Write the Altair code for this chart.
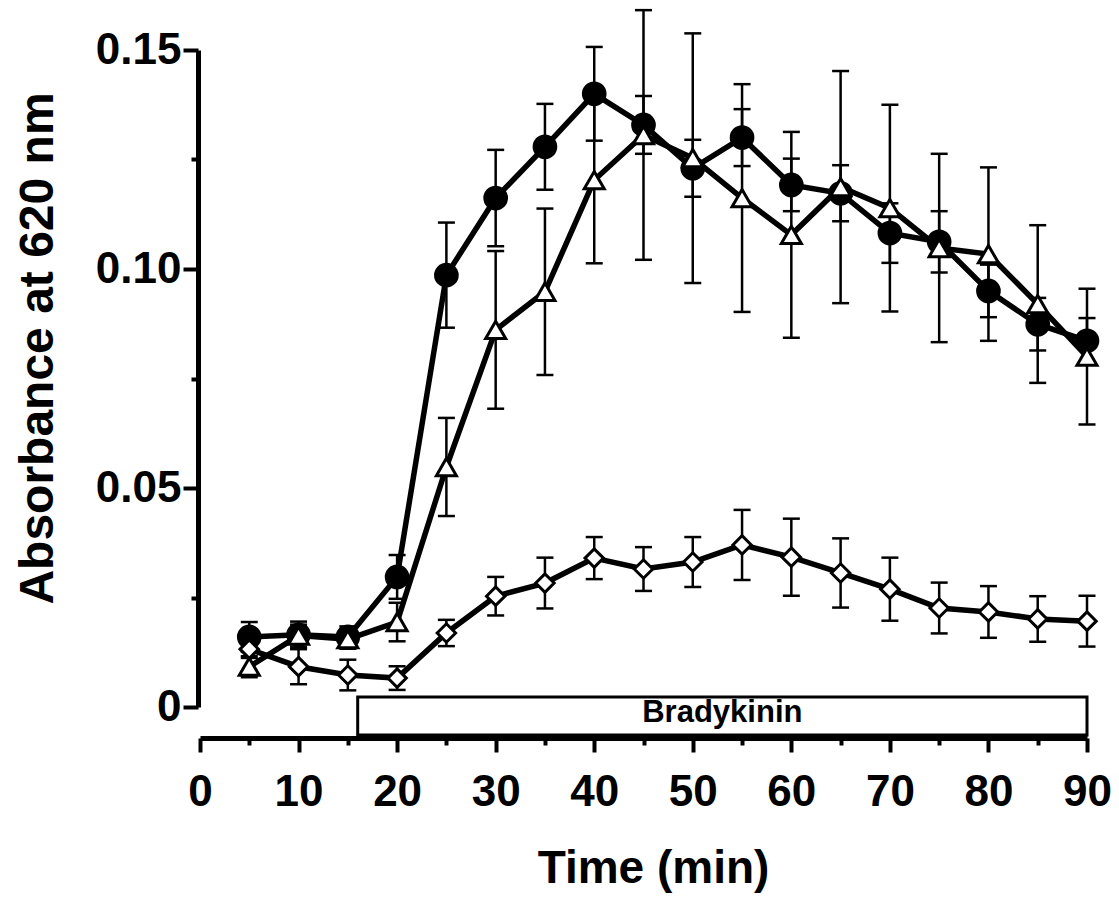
import altair as alt
import pandas as pd

times = [5, 10, 15, 20, 25, 30, 35, 40, 45, 50, 55, 60, 65, 70, 75, 80, 85, 90]
circle_mean = [0.0160, 0.0165, 0.0160, 0.0297, 0.0986, 0.1162, 0.1279, 0.1400, 0.1329, 0.1230,
               0.1300, 0.1192, 0.1173, 0.1082, 0.1062, 0.0950, 0.0874, 0.0836]
circle_err = [0.0034, 0.0030, 0.0024, 0.0050, 0.0120, 0.0110, 0.0098, 0.0107, 0.0066, 0.0065,
              0.0065, 0.0060, 0.0064, 0.0068, 0.0070, 0.0060, 0.0060, 0.0052]
triangle_mean = [0.0092, 0.0163, 0.0155, 0.0194, 0.0548, 0.0861, 0.0948, 0.1203, 0.1306, 0.1253,
                 0.1162, 0.1078, 0.1187, 0.1139, 0.1048, 0.1034, 0.0920, 0.0800]
triangle_err = [0.0024, 0.0025, 0.0022, 0.0044, 0.0112, 0.0180, 0.0190, 0.0190, 0.0285, 0.0285,
                0.0260, 0.0235, 0.0265, 0.0236, 0.0215, 0.0198, 0.0180, 0.0155]
diamond_mean = [0.0132, 0.0092, 0.0073, 0.0066, 0.0169, 0.0253, 0.0283, 0.0340, 0.0315, 0.0331,
                0.0370, 0.0342, 0.0306, 0.0269, 0.0226, 0.0217, 0.0201, 0.0196]
diamond_err = [0.0020, 0.0040, 0.0035, 0.0027, 0.0030, 0.0044, 0.0058, 0.0048, 0.0050, 0.0057,
               0.0080, 0.0088, 0.0079, 0.0072, 0.0058, 0.0059, 0.0052, 0.0058]

x_ticks = list(range(0, 95, 5))
y_ticks = [0, 0.025, 0.05, 0.075, 0.10, 0.125, 0.15]
bar_label = "Bradykinin"
bar_start = [16]
bar_end = [90]

rows = []
for name, means, errs in [("circle", circle_mean, circle_err),
                          ("triangle", triangle_mean, triangle_err),
                          ("diamond", diamond_mean, diamond_err)]:
    for t, m, e in zip(times, means, errs):
        rows.append({"series": name, "time": t, "mean": m, "err": e})
df = pd.DataFrame(rows)
bar_df = pd.DataFrame({"start": bar_start, "end": bar_end, "label": [bar_label]})

FONT = "Liberation Sans"
xscale = alt.Scale(domain=[0, 90], nice=False, zero=False)
yscale = alt.Scale(domain=[0, 0.15], nice=False, zero=False)

x_axis = alt.Axis(
    values=x_ticks, offset=31, domainWidth=5, domainColor="black",
    tickColor="black", tickWidth=4,
    tickSize={"condition": {"test": "datum.value % 10 === 0", "value": 14}, "value": 7},
    labelExpr="datum.value % 10 === 0 ? datum.label : ''",
    labelFont=FONT, labelFontSize=44, labelFontWeight="bold", labelColor="black", labelPadding=18,
    labelFlush=False, labelOverlap=False,
    title="Time (min)", titleFont=FONT, titleFontSize=46, titleFontWeight="bold",
    titleColor="black", titleBaseline="alphabetic", titleX=453, titleY=144,
    grid=False,
)
y_axis = alt.Axis(
    values=y_ticks, offset=2, domainWidth=5, domainColor="black",
    tickColor="black", tickWidth=4,
    tickSize={"condition": {"test": "round(datum.value*1000) % 50 === 0", "value": 15}, "value": 7},
    labelExpr="round(datum.value*1000) % 50 === 0 ? (datum.value === 0 ? '0' : format(datum.value, '.2f')) : ''",
    labelFont=FONT, labelFontSize=44, labelFontWeight="bold", labelColor="black", labelPadding=2,
    labelFlush=False, labelOverlap=False,
    title="Absorbance at 620 nm", titleFont=FONT, titleFontSize=48, titleFontWeight="bold",
    titleColor="black", titleBaseline="alphabetic", titleAngle=270, titleX=-146, titleY=298,
    grid=False,
)

X = lambda f: alt.X(f, scale=xscale, axis=x_axis)
Y = lambda f: alt.Y(f, scale=yscale, axis=y_axis)

base = alt.Chart(df).transform_calculate(
    lo="datum.mean - datum.err", hi="datum.mean + datum.err"
)

err_rules = base.mark_rule(color="black", strokeWidth=2.5).encode(
    x=X("time:Q"), y=Y("lo:Q"), y2="hi:Q",
)
caps_lo = base.mark_tick(orient="horizontal", color="black", size=17, thickness=2.5, opacity=1).encode(
    x=X("time:Q"), y=Y("lo:Q"),
)
caps_hi = base.mark_tick(orient="horizontal", color="black", size=17, thickness=2.5, opacity=1).encode(
    x=X("time:Q"), y=Y("hi:Q"),
)
lines = base.mark_line(color="black", strokeWidth=5.5).encode(
    x=X("time:Q"), y=Y("mean:Q"), detail="series:N",
)

def pts(name, shape, fill, size):
    return base.transform_filter(alt.datum.series == name).mark_point(
        shape=shape, filled=True, fill=fill, stroke="black", strokeWidth=3,
        size=size, opacity=1, fillOpacity=1,
    ).encode(x=X("time:Q"), y=Y("mean:Q"))

circles = pts("circle", "circle", "black", 470)
triangles = pts("triangle", "triangle-up", "white", 400)
diamonds = pts("diamond", "diamond", "white", 340)

bar_rect = alt.Chart(bar_df).mark_rect(fill="white", stroke="black", strokeWidth=3).encode(
    x=X("start:Q"), x2="end:Q",
    y=alt.value(647), y2=alt.value(685),
)
bar_text = alt.Chart(bar_df).transform_calculate(
    mid="(datum.start + datum.end) / 2"
).mark_text(font=FONT, fontSize=31, fontWeight="bold", color="black", baseline="alphabetic", align="center").encode(
    x=X("mid:Q"), y=alt.value(672), text="label:N",
)

chart = alt.layer(
    lines, bar_rect, bar_text, err_rules, caps_lo, caps_hi, circles, triangles, diamonds
).properties(
    width=887, height=657,
    autosize=alt.AutoSizeParams(type="none"),
    padding={"left": 192, "top": 42, "right": 24, "bottom": 190},
).configure(background="white").configure_view(strokeWidth=0)

chart.save("out.html", embed_options={"renderer": "svg", "actions": False})
